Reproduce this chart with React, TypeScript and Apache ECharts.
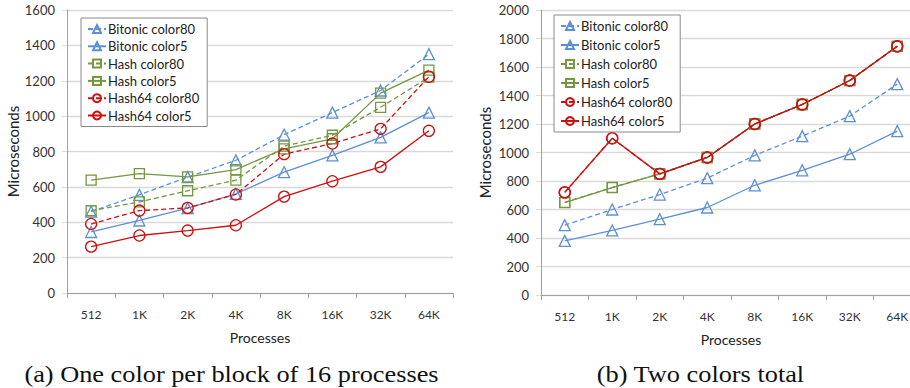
import React, { useEffect, useRef } from "react";
import * as echarts from "echarts";

const categories = ["512", "1K", "2K", "4K", "8K", "16K", "32K", "64K"];
const seriesNames = [
  "Bitonic color80",
  "Bitonic color5",
  "Hash color80",
  "Hash color5",
  "Hash64 color80",
  "Hash64 color5",
];

// (a) One color per block of 16 processes
const bitonic80A = [460, 555, 655, 750, 895, 1020, 1145, 1350];
const bitonic5A = [345, 410, 480, 560, 683, 778, 880, 1020];
const hash80A = [465, 515, 578, 638, 830, 892, 1050, 1220];
const hash5A = [638, 675, 657, 698, 815, 872, 1130, 1260];
const hash64c80A = [390, 466, 481, 557, 785, 845, 928, 1223];
const hash64c5A = [262, 325, 353, 383, 545, 632, 713, 917];

// (b) Two colors total
const bitonic80B = [490, 600, 705, 820, 980, 1115, 1255, 1480];
const bitonic5B = [380, 453, 532, 614, 770, 875, 988, 1150];
const hash80B = [650, 755, 850, 965, 1200, 1337, 1505, 1745];
const hash5B = [648, 753, 850, 965, 1200, 1337, 1505, 1745];
const hash64c80B = [720, 1100, 850, 965, 1200, 1337, 1505, 1745];
const hash64c5B = [720, 1100, 850, 965, 1200, 1337, 1505, 1745];

const captions = ["(a) One color per block of 16 processes", "(b) Two colors total"];

const BLUE = "#5b8fd8";
const GREEN = "#74973f";
const RED = "#cc1010";
const FONT = "Lato";

const styles = [
  { color: BLUE, symbol: "triangle", dash: true, size: 11 },
  { color: BLUE, symbol: "triangle", dash: false, size: 11 },
  { color: GREEN, symbol: "rect", dash: true, size: 10 },
  { color: GREEN, symbol: "rect", dash: false, size: 10 },
  { color: RED, symbol: "circle", dash: true, size: 11 },
  { color: RED, symbol: "circle", dash: false, size: 11 },
];

function makeSeries(data: number[][], idx: number) {
  return data.map((d, i) => ({
    name: seriesNames[i],
    type: "line",
    xAxisIndex: idx,
    yAxisIndex: idx,
    data: d,
    symbol: styles[i].symbol,
    symbolSize: styles[i].size,
    showAllSymbol: true,
    lineStyle: {
      color: styles[i].color,
      width: 1.3,
      type: styles[i].dash ? [5, 3] : "solid",
    },
    itemStyle: {
      color: "rgba(255,255,255,0)",
      borderColor: styles[i].color,
      borderWidth: 1.3,
    },
    emphasis: { disabled: true },
  }));
}

function xAxis(idx: number) {
  return {
    type: "category",
    gridIndex: idx,
    data: categories,
    boundaryGap: true,
    name: "Processes",
    nameLocation: "middle",
    nameGap: 37,
    nameTextStyle: { fontFamily: FONT, fontSize: 14, color: "#222" },
    axisLine: { show: true, lineStyle: { color: "#a0a0a0", width: 1 } },
    axisTick: { show: true, length: 5, lineStyle: { color: "#a0a0a0" } },
    axisLabel: { fontFamily: FONT, fontSize: 12, color: "#333", margin: 15 },
    splitLine: { show: false },
  };
}

function yAxis(idx: number, max: number, gap: number) {
  return {
    type: "value",
    gridIndex: idx,
    min: 0,
    max,
    interval: 200,
    name: "Microseconds",
    nameLocation: "middle",
    nameGap: gap,
    nameTextStyle: { fontFamily: FONT, fontSize: 15, color: "#222" },
    axisLine: { show: true, lineStyle: { color: "#a0a0a0", width: 1 } },
    axisTick: { show: true, length: 5, lineStyle: { color: "#d9d9d9" } },
    axisLabel: {
      fontFamily: FONT,
      fontSize: 13,
      color: "#333",
      margin: 12,
      formatter: (v: number) => String(v),
    },
    splitLine: { show: true, lineStyle: { color: "#d9d9d9", width: 1.3 } },
  };
}

function legend(left: number, top: number, gap: number) {
  return {
    orient: "vertical",
    left,
    top,
    data: seriesNames,
    itemWidth: 18,
    itemHeight: 10,
    itemGap: gap,
    padding: [4, 8, 4, 6],
    borderColor: "#8a8a8a",
    borderWidth: 1,
    backgroundColor: "#fff",
    selectedMode: false,
    textStyle: { fontFamily: FONT, fontSize: 13, color: "#222", lineHeight: 14, padding: [0, 0, 0, -3] },
  };
}

function caption(text: string, x: number) {
  return {
    type: "text",
    x,
    y: 374,
    scaleX: 1.17,
    style: {
      text,
      fontFamily: "Liberation Serif",
      fontSize: 22.5,
      fill: "#111",
      align: "center",
      verticalAlign: "middle",
    },
  };
}

export default function App() {
  const ref = useRef<HTMLDivElement>(null);
  useEffect(() => {
    if (!ref.current) return;
    const chart = echarts.init(ref.current, undefined, { renderer: "svg" });
    chart.setOption({
      animation: false,
      backgroundColor: "#fff",
      grid: [
        { left: 67, top: 10, width: 386, height: 283, outerBoundsMode: "none" },
        { left: 541, top: 10, width: 380, height: 285, outerBoundsMode: "none" },
      ],
      xAxis: [xAxis(0), xAxis(1)],
      yAxis: [yAxis(0, 1600, 47), yAxis(1, 2000, 49)],
      legend: [legend(81, 18, 3.3), legend(554, 15, 5)],
      series: [
        ...makeSeries([bitonic80A, bitonic5A, hash80A, hash5A, hash64c80A, hash64c5A], 0),
        ...makeSeries([bitonic80B, bitonic5B, hash80B, hash5B, hash64c80B, hash64c5B], 1),
      ],
      graphic: [caption(captions[0], 231.5), caption(captions[1], 700.5)],
    });
    return () => chart.dispose();
  }, []);
  return (
    <div
      ref={ref}
      style={{ position: "fixed", left: 0, top: 0, width: 910, height: 388 }}
    />
  );
}
